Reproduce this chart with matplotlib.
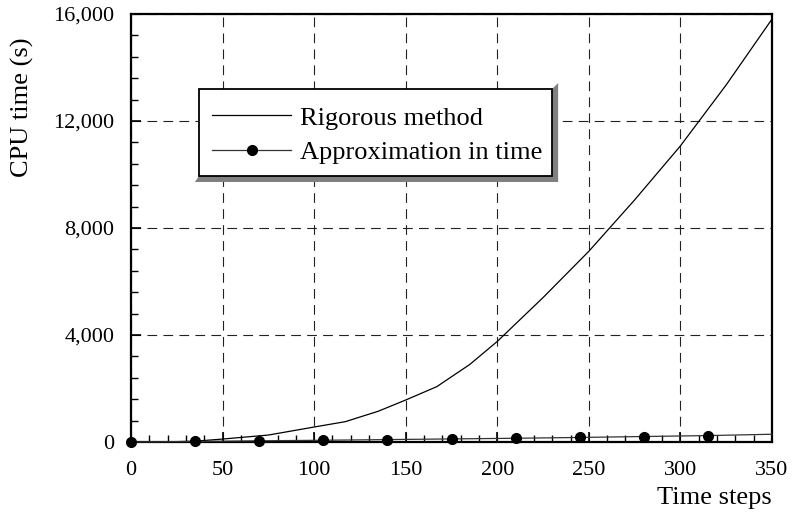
import matplotlib
matplotlib.use("Agg")
import matplotlib.pyplot as plt
from matplotlib.ticker import MultipleLocator, FuncFormatter
from matplotlib.patches import Polygon, Rectangle

plt.rcParams['font.family'] = ['Liberation Serif', 'DejaVu Serif']
plt.rcParams['lines.scale_dashes'] = False

# Data
rig_x = [0, 20, 35, 50, 75, 100, 117, 135, 150, 167, 185, 200, 225, 250, 275, 300, 325, 350]
rig_y = [0, 5, 30, 110, 260, 560, 760, 1150, 1570, 2070, 2900, 3760, 5400, 7130, 9050, 11070, 13350, 15810]
app_x = [0, 35, 70, 105, 140, 175, 210, 245, 280, 315, 350]
app_y = [0, 20, 45, 65, 90, 115, 140, 170, 205, 240, 290]
xticks = [0, 50, 100, 150, 200, 250, 300, 350]
yticks = [0, 4000, 8000, 12000, 16000]

fig = plt.figure(figsize=(7.95, 5.17), dpi=100)
ax = fig.add_axes([131/795, 1-442/517, (772-131)/795, (442-14)/517])

ax.plot(rig_x, rig_y, color='black', lw=0.9, label='Rigorous method')
ax.plot(app_x, app_y, color='#333333', lw=0.9, marker='o', ms=7,
        mfc='black', mec='black', markevery=list(range(len(app_x)-1)),
        label='Approximation in time', clip_on=False, zorder=5)

ax.set_xlim(0, 350)
ax.set_ylim(0, 16000)
ax.set_xticks(xticks)
ax.set_yticks(yticks)
ax.xaxis.set_minor_locator(MultipleLocator(10))
ax.yaxis.set_minor_locator(MultipleLocator(800))
ax.yaxis.set_major_formatter(FuncFormatter(lambda v, p: f"{int(v):,}"))

ax.tick_params(which='both', direction='in', top=False, right=False)
ax.tick_params(which='major', length=7, width=1.2)
ax.tick_params(which='minor', length=5, width=1.0)
ax.tick_params(axis='x', which='major', labelsize=16, pad=14)
ax.tick_params(axis='y', which='major', labelsize=16, pad=12)

for s in ax.spines.values():
    s.set_linewidth(1.6)

ax.grid(True, which='major', color='#222222', lw=0.8, linestyle=(0, (7, 4.5)))
ax.set_axisbelow(True)

ax.text(1.0, -0.105, 'Time steps', transform=ax.transAxes, ha='right', va='top', fontsize=19)
fig.text(22/795, 1-107/517, 'CPU time (s)', rotation=90, ha='center', va='center', fontsize=19)

# Legend frame (box + bevelled shadow), in axes coordinates
bx0, bx1, by0, by1 = 0.106, 0.657, 0.6215, 0.8248
frame = Rectangle((bx0, by0), bx1 - bx0, by1 - by0, transform=ax.transAxes,
                  facecolor='white', edgecolor='black', lw=1.3, zorder=9.5, clip_on=False)
ax.add_patch(frame)

leg = ax.legend(loc='center left', bbox_to_anchor=(bx0, 0.717), borderaxespad=0,
                fontsize=19, frameon=False, handlelength=3,
                numpoints=1, borderpad=0.5, labelspacing=0.42, handletextpad=0.34)
leg.set_zorder(10)

fig.canvas.draw()
bb = frame.get_window_extent()
d = 6
xl, xr, yb, yt = bb.x0, bb.x1, bb.y0, bb.y1
shadow = Polygon([(xl - 4, yb - d), (xr + d, yb - d), (xr + d, yt + d),
                  (xr, yt), (xr, yb), (xl, yb)], closed=True, transform=None,
                 facecolor='#808080', edgecolor='none', zorder=9, clip_on=False)
ax.add_artist(shadow)

fig.savefig('out.png', dpi=100)
